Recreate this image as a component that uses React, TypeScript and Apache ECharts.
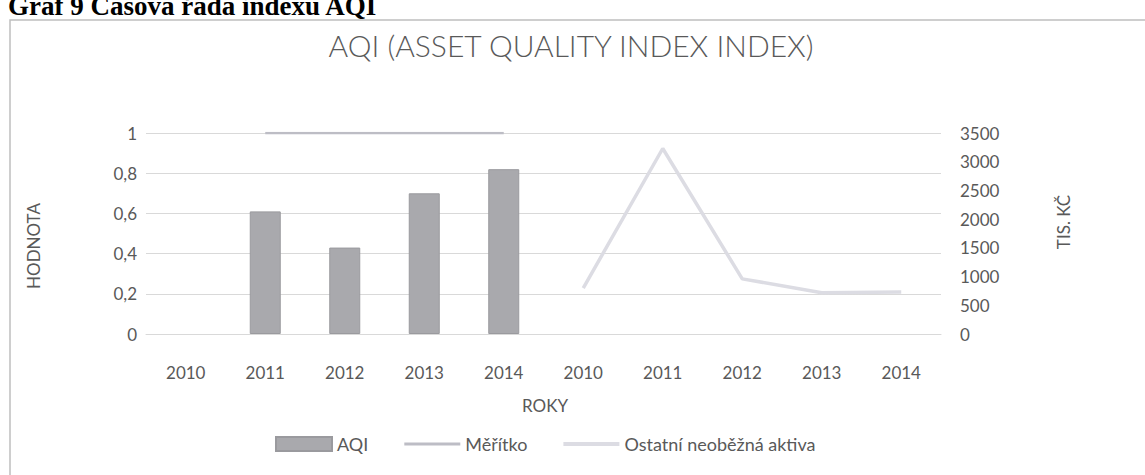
import React, { useEffect, useRef } from "react";
import * as echarts from "echarts";

const categories = ["2010", "2011", "2012", "2013", "2014", "2010", "2011", "2012", "2013", "2014"];
const aqiValues = [null, 0.61, 0.43, 0.7, 0.82, null, null, null, null, null];
const meritkoValues = [null, 1, 1, 1, 1, null, null, null, null, null];
const ostatniValues = [null, null, null, null, null, 800, 3230, 960, 720, 730];
const leftTicks = { min: 0, max: 1, interval: 0.2 };
const rightTicks = { min: 0, max: 3500, interval: 500 };

const FONT = "Lato, 'Open Sans', sans-serif";
const TEXT = "#595959";

export default function App() {
  const ref = useRef<HTMLDivElement>(null);
  useEffect(() => {
    document.body.style.margin = "0";
    const chart = echarts.init(ref.current!, null, { renderer: "svg" });
    chart.setOption({
      animation: false,
      backgroundColor: "#ffffff",
      textStyle: { fontFamily: FONT, color: TEXT },
      title: {
        text: "AQI (ASSET QUALITY INDEX INDEX)",
        left: 566,
        textAlign: "center",
        top: 25,
        textStyle: { fontFamily: FONT, fontSize: 30, fontWeight: 300, color: TEXT },
      },
      graphic: [
        {
          type: "rect",
          shape: { x: 10, y: 20, width: 1300, height: 520 },
          style: { fill: "none", stroke: "#bfbfbf", lineWidth: 1.5 },
          silent: true,
          z: -1,
        },
        {
          type: "text",
          x: 8,
          y: 19,
          style: {
            text: "Graf 9 Časová řada indexu AQI",
            fontFamily: "'Liberation Serif', serif",
            fontWeight: "bold",
            fontSize: 27,
            fill: "#000",
            verticalAlign: "bottom",
          },
        },
        {
          type: "text",
          x: 33,
          y: 246,
          rotation: Math.PI / 2,
          style: {
            text: "HODNOTA",
            fontFamily: FONT,
            fontSize: 17,
            fill: TEXT,
            align: "center",
            verticalAlign: "middle",
          },
        },
        {
          type: "text",
          x: 1063,
          y: 222,
          rotation: Math.PI / 2,
          style: {
            text: "TIS. KČ",
            fontFamily: FONT,
            fontSize: 17,
            fill: TEXT,
            align: "center",
            verticalAlign: "middle",
          },
        },
        {
          type: "text",
          x: 545,
          y: 405,
          style: {
            text: "ROKY",
            fontFamily: FONT,
            fontSize: 17,
            fill: TEXT,
            align: "center",
            verticalAlign: "middle",
          },
        },
      ],
      legend: {
        top: 430,
        left: 270,
        itemGap: 36,
        itemWidth: 56,
        itemHeight: 14,
        symbolKeepAspect: true,
        textStyle: { fontFamily: FONT, fontSize: 18, color: TEXT },
        data: [
          { name: "AQI", icon: "rect" },
          { name: "Měřítko", icon: "path://M0,0 L100,0 L100,5 L0,5 Z" },
          { name: "Ostatní neoběžná aktiva", icon: "path://M0,0 L100,0 L100,7 L0,7 Z" },
        ],
      },
      grid: { left: 146, right: 204, top: 133, bottom: 141 },
      xAxis: {
        type: "category",
        data: categories,
        axisLine: { show: true, lineStyle: { color: "#d9d9d9" } },
        axisTick: { show: false },
        axisLabel: { margin: 30, fontSize: 17, color: TEXT, fontFamily: FONT },
      },
      yAxis: [
        {
          type: "value",
          min: leftTicks.min,
          max: leftTicks.max,
          interval: leftTicks.interval,
          axisLine: { show: false },
          axisTick: { show: false },
          splitLine: { lineStyle: { color: "#d9d9d9", width: 1 } },
          axisLabel: {
            margin: 9,
            fontSize: 17,
            color: TEXT,
            fontFamily: FONT,
            formatter: (v: number) => String(Math.round(v * 10) / 10).replace(".", ","),
          },
        },
        {
          type: "value",
          min: rightTicks.min,
          max: rightTicks.max,
          interval: rightTicks.interval,
          position: "right",
          axisLine: { show: false },
          axisTick: { show: false },
          splitLine: { show: false },
          axisLabel: {
            margin: 19,
            fontSize: 17,
            color: TEXT,
            fontFamily: FONT,
            formatter: (v: number) => String(v),
          },
        },
      ],
      series: [
        {
          name: "AQI",
          type: "bar",
          data: aqiValues,
          barWidth: 31,
          itemStyle: { color: "#a9a9ad", borderColor: "#9a9a9e", borderWidth: 1 },
        },
        {
          name: "Měřítko",
          type: "line",
          data: meritkoValues,
          symbol: "none",
          lineStyle: { color: "#bdbdc5", width: 2.5 },
          itemStyle: { color: "#bdbdc5" },
        },
        {
          name: "Ostatní neoběžná aktiva",
          type: "line",
          yAxisIndex: 1,
          data: ostatniValues,
          symbol: "none",
          lineStyle: { color: "#dcdce3", width: 3.5 },
          itemStyle: { color: "#dcdce3" },
        },
      ],
    });
    return () => chart.dispose();
  }, []);
  return (
    <div
      ref={ref}
      style={{ position: "absolute", left: 0, top: 0, width: 1145, height: 475 }}
    />
  );
}
